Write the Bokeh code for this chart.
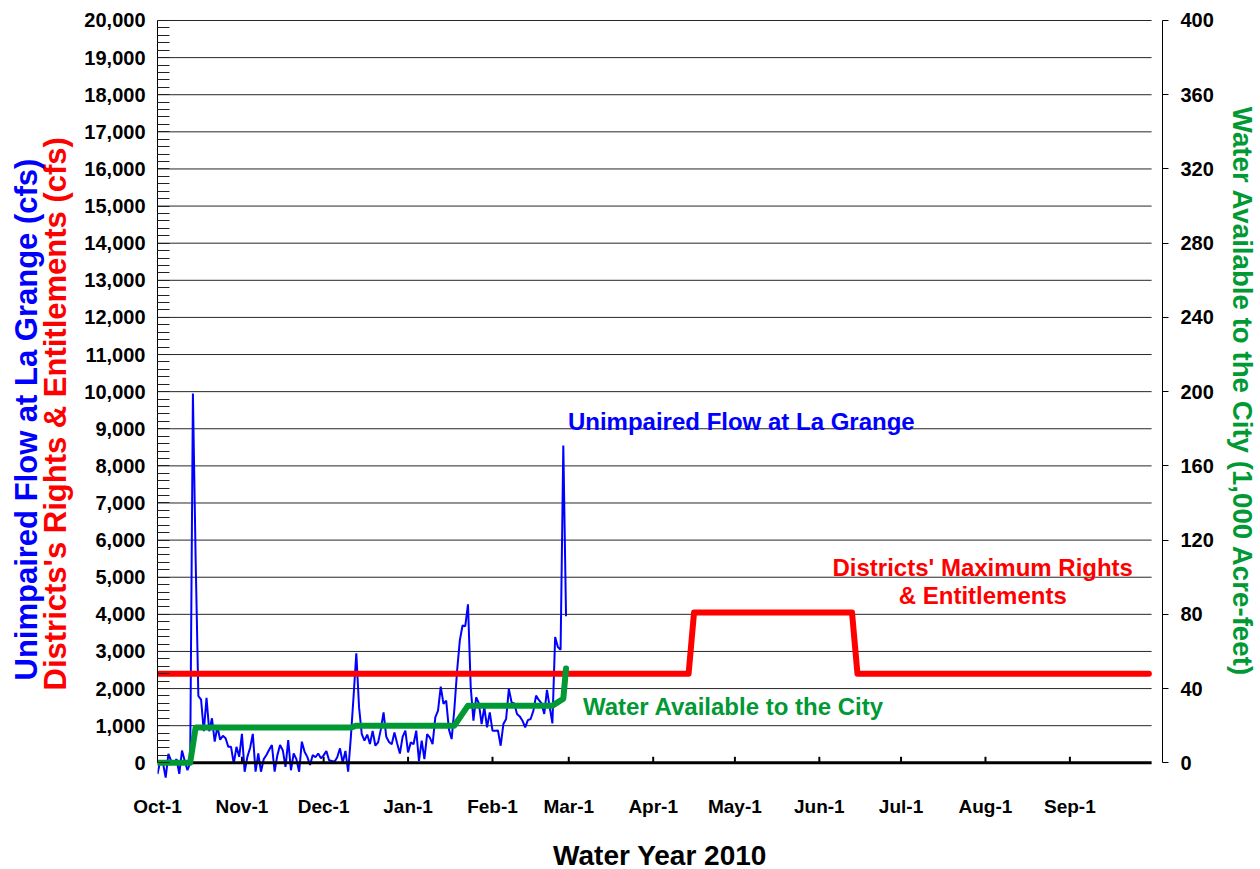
from bokeh.plotting import figure
from bokeh.models import (Range1d, LinearAxis, FixedTicker, Title, Label,
                          NumeralTickFormatter)
from bokeh.embed import file_html
from bokeh.resources import INLINE

FONT = "Liberation Sans"

# ---------------- data ----------------
month_labels = ["Oct-1", "Nov-1", "Dec-1", "Jan-1", "Feb-1", "Mar-1",
                "Apr-1", "May-1", "Jun-1", "Jul-1", "Aug-1", "Sep-1"]
month_start_day = [0, 31, 61, 92, 123, 151, 182, 212, 243, 273, 304, 335]
days_in_year = 365

# daily unimpaired flow at La Grange (cfs), Oct 1 .. Feb 28
flow_cfs = [
    -300, 50, 0, -400, 240, 50, -30, 100, -300, 330, 50, -200, 0, 9950, 5500,
    1800, 1700, 850, 1750, 850, 1200, 570, 970, 620, 730, 660, 430, 430, -20, 430,
    160, 780, -240, 160, 400, 780, -240, 250, -240, 100, 210, 350, 480, -240, 200,
    480, 340, -110, 610, -200, 250, 100, -240, 570, 300, 160, -60, 210, 150, 250,
    120, 200, 320, 70, 50, 30, 150, 390, 0, 320, -240, 700, 1800, 2950, 1500,
    775, 595, 760, 505, 860, 460, 550, 900, 1360, 700, 560, 500, 820, 520, 250,
    700, 865, 280, 550, 500, 865, 54, 600, 100, 770, 680, 505, 1225, 1405, 2050,
    1586, 1676, 900, 640, 1450, 2480, 3300, 3700, 3680, 4270, 2040, 1135, 1766, 1600, 1045,
    1495, 955, 1360, 865, 865, 870, 460, 1045, 1180, 1990, 1630, 1600, 1315, 1250, 1135,
    955, 1150, 1180, 1400, 1810, 1694, 1600, 1315, 1964, 1500, 1063, 3387, 3117, 3045, 8550,
    3950,
]
flow_day = list(range(len(flow_cfs)))

# districts' maximum rights & entitlements (cfs)
rights_day = [0, 195, 197, 255, 257, 364]
rights_cfs = [2400, 2400, 4050, 4050, 2400, 2400]

# water available to the city (1,000 acre-feet)
city_day = [0, 12, 14, 71, 73, 109, 114, 145, 149, 150]
city_taf = [0, 0, 19.0, 19.0, 20.0, 20.0, 30.8, 30.8, 34.5, 50.8]

left_ticks = list(range(0, 20001, 1000))
left_minor = list(range(0, 20001, 200))
right_ticks = list(range(0, 401, 40))

AXIS_MAX = 20000
Y_MIN, Y_TOP = -450, 20431          # visible extent (frame padding around the axis)
CFS_PER_TAF = 50
FRAME_H = 775

BLUE = "#0000FF"
RED = "#FF0000"
GREEN = "#009933"

p = figure(frame_width=1005, frame_height=FRAME_H,
           x_range=Range1d(0, 369), y_range=Range1d(Y_MIN, Y_TOP),
           output_backend="svg", toolbar_location=None, title=None,
           min_border_left=157, min_border_right=95,
           min_border_top=4, min_border_bottom=0)
p.outline_line_color = None
p.xgrid.visible = False
p.ygrid.visible = False
p.background_fill_color = "white"

# gridlines (stop at end of the water year)
p.segment(x0=[0] * (len(left_ticks) - 1), x1=[days_in_year] * (len(left_ticks) - 1),
          y0=left_ticks[1:], y1=left_ticks[1:], line_color="#000000",
          line_width=1, line_alpha=0.85)

# ---- x axis: labels only; base line + ticks drawn at y=0
xa = p.xaxis[0]
xa.ticker = FixedTicker(ticks=month_start_day, minor_ticks=[])
overrides = {}
for d, lbl in zip(month_start_day, month_labels):
    overrides[d] = lbl
    overrides[str(d)] = lbl
xa.major_label_overrides = overrides
xa.axis_line_color = None
xa.major_tick_line_color = None
xa.minor_tick_line_color = None
xa.major_label_standoff = 10
xa.major_label_text_font = FONT
xa.major_label_text_font_style = "bold"
xa.major_label_text_font_size = "19px"
xa.major_label_text_color = "black"
xa.axis_label = "Water Year 2010"
xa.axis_label_text_font = FONT
xa.axis_label_text_font_style = "bold"
xa.axis_label_text_font_size = "28px"
xa.axis_label_text_color = "black"
xa.axis_label_standoff = 20

tick_len = 6 * (Y_TOP - Y_MIN) / FRAME_H
p.segment(x0=month_start_day[1:], x1=month_start_day[1:],
          y0=[0] * 11, y1=[tick_len] * 11, line_color="black", line_width=2)

# ---- left axis
ya = p.yaxis[0]
ya.ticker = FixedTicker(ticks=left_ticks, minor_ticks=left_minor)
ya.formatter = NumeralTickFormatter(format="0,0")
ya.bounds = (0, AXIS_MAX)
ya.axis_line_color = "black"
ya.axis_line_width = 1
ya.major_tick_in = 0
ya.major_tick_out = 0
ya.minor_tick_in = 12
ya.minor_tick_out = 0
ya.minor_tick_line_color = "#222222"
ya.major_label_standoff = 12
ya.major_label_text_font = FONT
ya.major_label_text_font_style = "bold"
ya.major_label_text_font_size = "20px"
ya.major_label_text_color = "black"

# ---- right axis
p.extra_y_ranges = {"taf": Range1d(Y_MIN / CFS_PER_TAF, Y_TOP / CFS_PER_TAF)}
ra = LinearAxis(y_range_name="taf", ticker=FixedTicker(ticks=right_ticks, minor_ticks=[]))
ra.bounds = (0, AXIS_MAX / CFS_PER_TAF)
ra.axis_line_color = "black"
ra.axis_line_width = 1
ra.major_tick_in = 0
ra.major_tick_out = 6
ra.major_label_standoff = 12
ra.major_label_text_font = FONT
ra.major_label_text_font_style = "bold"
ra.major_label_text_font_size = "20px"
ra.major_label_text_color = "black"
ra.axis_label = "Water Available to the City (1,000 Acre-feet)"
ra.axis_label_text_font = FONT
ra.axis_label_text_font_style = "bold"
ra.axis_label_text_font_size = "27.7px"
ra.axis_label_text_color = GREEN
ra.axis_label_standoff = 10
p.add_layout(ra, "right")

# ---- left titles (red closer to the axis, blue outside)
t_red = Title(text="Districts's Rights & Entitlements (cfs)", align="left", offset=89,
              text_font=FONT, text_font_style="bold", text_font_size="31px",
              text_color=RED, standoff=17)
t_blue = Title(text="Unimpaired Flow at La Grange (cfs)", align="left", offset=99,
               text_font=FONT, text_font_style="bold", text_font_size="31px",
               text_color=BLUE, standoff=-32)
p.add_layout(t_red, "left")
p.add_layout(t_blue, "left")

# ---- series
p.line(flow_day, flow_cfs, line_color=BLUE, line_width=2)
# zero base line
p.segment(x0=[0], x1=[days_in_year], y0=[0], y1=[0], line_color="black", line_width=3)
p.line(rights_day, rights_cfs, line_color=RED, line_width=6, line_cap="round",
       line_join="round")
p.line(city_day, city_taf, y_range_name="taf", line_color=GREEN, line_width=6,
       line_cap="round", line_join="round")

# ---- in-plot labels
def lab(x, y, text, color, align="left"):
    p.add_layout(Label(x=x, y=y, text=text, text_color=color, text_font=FONT,
                       text_font_style="bold", text_font_size="24px",
                       text_align=align, text_baseline="middle"))

lab(150.7, 9200, "Unimpaired Flow at La Grange", BLUE)
lab(156.2, 1520, "Water Available to the City", GREEN)
lab(303, 5270, "Districts' Maximum Rights", RED, "center")
lab(303, 4510, "& Entitlements", RED, "center")

open("out.html", "w").write(file_html(p, INLINE))
